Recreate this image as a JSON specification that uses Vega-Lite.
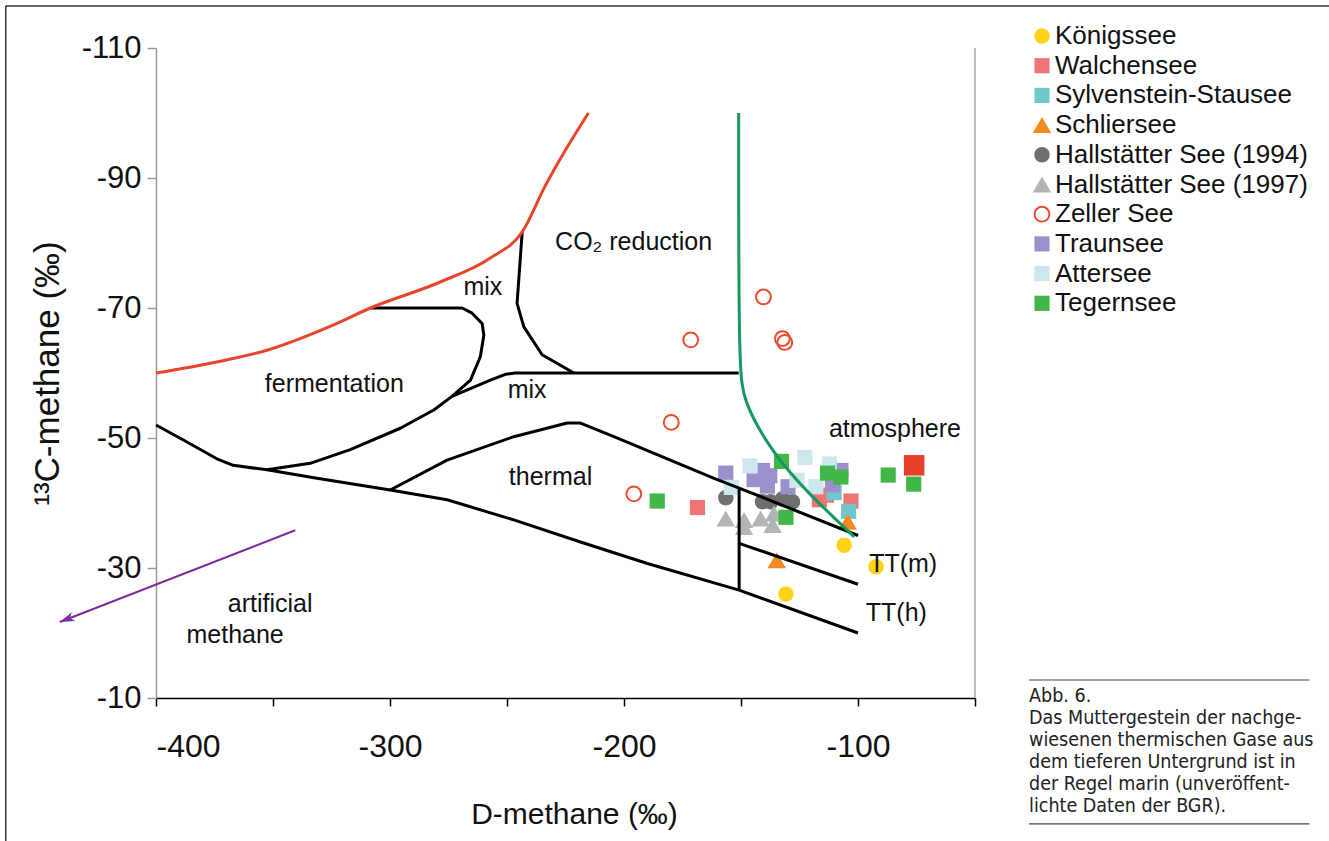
{
  "$schema": "https://vega.github.io/schema/vega-lite/v6.json",
  "autosize": {"type": "none"},
  "width": 819,
  "height": 650,
  "padding": {"left": 156, "top": 48, "right": 354, "bottom": 143},
  "background": "white",
  "config": {
    "view": {"stroke": null},
    "font": "Liberation Sans, Arial, sans-serif",
    "legend": {
      "orient": "none", "legendX": 873, "legendY": -25,
      "labelFontSize": 26, "labelFont": "Liberation Sans, Arial, sans-serif",
      "labelColor": "#111", "symbolSize": 200, "rowPadding": 3.7, "labelOffset": 0,
      "symbolStrokeWidth": 2, "padding": 0, "labelLimit": 400
    }
  },
  "datasets": {
    "pts": [
      {"lake": "Königssee", "d": -105.9, "c": -33.5},
      {"lake": "Königssee", "d": -92.3, "c": -30.2},
      {"lake": "Königssee", "d": -130.8, "c": -26.0},
      {"lake": "Walchensee", "d": -168.6, "c": -39.3},
      {"lake": "Walchensee", "d": -116.5, "c": -40.5},
      {"lake": "Walchensee", "d": -113.5, "c": -41.2},
      {"lake": "Walchensee", "d": -103.0, "c": -40.3},
      {"lake": "Sylvenstein-Stausee", "d": -110.2, "c": -41.6},
      {"lake": "Sylvenstein-Stausee", "d": -104.0, "c": -38.7},
      {"lake": "Schliersee", "d": -104.4, "c": -37.1},
      {"lake": "Schliersee", "d": -134.7, "c": -31.2},
      {"lake": "Hallstätter See (1994)", "d": -156.5, "c": -40.8},
      {"lake": "Hallstätter See (1994)", "d": -140.8, "c": -40.2},
      {"lake": "Hallstätter See (1994)", "d": -137.3, "c": -40.2},
      {"lake": "Hallstätter See (1994)", "d": -132.3, "c": -40.6},
      {"lake": "Hallstätter See (1994)", "d": -128.0, "c": -40.2},
      {"lake": "Hallstätter See (1997)", "d": -156.5, "c": -37.6},
      {"lake": "Hallstätter See (1997)", "d": -148.7, "c": -37.4},
      {"lake": "Hallstätter See (1997)", "d": -148.7, "c": -36.3},
      {"lake": "Hallstätter See (1997)", "d": -141.6, "c": -37.6},
      {"lake": "Hallstätter See (1997)", "d": -136.5, "c": -36.6},
      {"lake": "Hallstätter See (1997)", "d": -135.9, "c": -38.4},
      {"lake": "Zeller See", "d": -140.4, "c": -71.7},
      {"lake": "Zeller See", "d": -171.5, "c": -65.1},
      {"lake": "Zeller See", "d": -132.3, "c": -65.3},
      {"lake": "Zeller See", "d": -131.3, "c": -64.7},
      {"lake": "Zeller See", "d": -179.8, "c": -52.4},
      {"lake": "Zeller See", "d": -195.8, "c": -41.4},
      {"lake": "Traunsee", "d": -156.5, "c": -44.6},
      {"lake": "Traunsee", "d": -140.8, "c": -45.0},
      {"lake": "Traunsee", "d": -144.4, "c": -43.6},
      {"lake": "Traunsee", "d": -138.7, "c": -42.6},
      {"lake": "Traunsee", "d": -137.7, "c": -44.2},
      {"lake": "Traunsee", "d": -129.9, "c": -42.5},
      {"lake": "Traunsee", "d": -107.3, "c": -45.0},
      {"lake": "Traunsee", "d": -110.9, "c": -42.8},
      {"lake": "Attersee", "d": -154.1, "c": -42.4},
      {"lake": "Attersee", "d": -146.1, "c": -45.7},
      {"lake": "Attersee", "d": -122.7, "c": -47.0},
      {"lake": "Attersee", "d": -126.1, "c": -43.5},
      {"lake": "Attersee", "d": -118.0, "c": -42.5},
      {"lake": "Attersee", "d": -112.3, "c": -46.0},
      {"lake": "Tegernsee", "d": -185.8, "c": -40.3},
      {"lake": "Tegernsee", "d": -132.7, "c": -46.4},
      {"lake": "Tegernsee", "d": -130.8, "c": -37.8},
      {"lake": "Tegernsee", "d": -113.0, "c": -44.6},
      {"lake": "Tegernsee", "d": -107.3, "c": -44.0},
      {"lake": "Tegernsee", "d": -87.1, "c": -44.3},
      {"lake": "Tegernsee", "d": -76.2, "c": -42.9}
    ],
    "atmo": [{"d": -76.0, "c": -45.8}],
    "black": [
      {"id": "A", "o": 1, "d": -308.4, "c": -70}, {"id": "A", "o": 2, "d": -269.2, "c": -70},
      {"id": "A", "o": 3, "d": -264.9, "c": -69.2}, {"id": "A", "o": 4, "d": -260.6, "c": -67.6},
      {"id": "A", "o": 5, "d": -259.9, "c": -65.8}, {"id": "A", "o": 6, "d": -261.4, "c": -62.5},
      {"id": "A", "o": 7, "d": -265.6, "c": -58.9}, {"id": "A", "o": 8, "d": -273.5, "c": -56.4},
      {"id": "B", "o": 1, "d": -273.5, "c": -56.4}, {"id": "B", "o": 2, "d": -281.3, "c": -54.3},
      {"id": "B", "o": 3, "d": -295.6, "c": -51.5}, {"id": "B", "o": 4, "d": -317.0, "c": -48.2},
      {"id": "B", "o": 5, "d": -334.1, "c": -46.1}, {"id": "B", "o": 6, "d": -352.6, "c": -45.1},
      {"id": "C", "o": 1, "d": -273.5, "c": -56.4}, {"id": "C", "o": 2, "d": -257.1, "c": -58.9},
      {"id": "C", "o": 3, "d": -250.7, "c": -59.8}, {"id": "C", "o": 4, "d": -246.5, "c": -60},
      {"id": "C", "o": 5, "d": -151, "c": -60},
      {"id": "D", "o": 1, "d": -243.5, "c": -81.7}, {"id": "D", "o": 2, "d": -245.7, "c": -70.7},
      {"id": "D", "o": 3, "d": -242.8, "c": -67.1}, {"id": "D", "o": 4, "d": -235.0, "c": -62.8},
      {"id": "D", "o": 5, "d": -221.4, "c": -60},
      {"id": "E", "o": 1, "d": -400, "c": -52}, {"id": "E", "o": 2, "d": -388.3, "c": -49.7},
      {"id": "E", "o": 3, "d": -374.0, "c": -46.8}, {"id": "E", "o": 4, "d": -367.0, "c": -45.8},
      {"id": "E", "o": 5, "d": -352.6, "c": -45.1}, {"id": "E", "o": 6, "d": -331.2, "c": -43.8},
      {"id": "E", "o": 7, "d": -299.9, "c": -42.0}, {"id": "E", "o": 8, "d": -275.6, "c": -40.5},
      {"id": "E", "o": 9, "d": -247.1, "c": -37.4}, {"id": "E", "o": 10, "d": -218.6, "c": -34.0},
      {"id": "E", "o": 11, "d": -190.0, "c": -30.7}, {"id": "E", "o": 12, "d": -150.8, "c": -26.6},
      {"id": "E", "o": 13, "d": -100, "c": -20},
      {"id": "F", "o": 1, "d": -299.9, "c": -42.0}, {"id": "F", "o": 2, "d": -275.6, "c": -46.6},
      {"id": "F", "o": 3, "d": -247.1, "c": -50.2}, {"id": "F", "o": 4, "d": -224.3, "c": -52.3},
      {"id": "F", "o": 5, "d": -218.6, "c": -52.3}, {"id": "F", "o": 6, "d": -204.3, "c": -50.2},
      {"id": "F", "o": 7, "d": -161.5, "c": -43.8}, {"id": "F", "o": 8, "d": -150.8, "c": -42.3},
      {"id": "F", "o": 9, "d": -100, "c": -35},
      {"id": "G", "o": 1, "d": -150.8, "c": -42.3}, {"id": "G", "o": 2, "d": -150.8, "c": -26.6},
      {"id": "H", "o": 1, "d": -150.8, "c": -33.8}, {"id": "H", "o": 2, "d": -100, "c": -27.5}
    ],
    "red": [
      {"o": 1, "d": -400, "c": -60}, {"o": 2, "d": -374.0, "c": -61.7},
      {"o": 3, "d": -352.6, "c": -63.5}, {"o": 4, "d": -338.4, "c": -65.3},
      {"o": 5, "d": -324.1, "c": -67.4}, {"o": 6, "d": -308.4, "c": -70.0},
      {"o": 7, "d": -278.5, "c": -74.0}, {"o": 8, "d": -257.1, "c": -77.7},
      {"o": 9, "d": -243.5, "c": -81.7}, {"o": 10, "d": -233.5, "c": -88.9},
      {"o": 11, "d": -225.0, "c": -94.3}, {"o": 12, "d": -215.2, "c": -100}
    ],
    "green": [
      {"o": 1, "d": -151, "c": -100}, {"o": 2, "d": -151, "c": -60.2},
      {"o": 3, "d": -148.7, "c": -55.8}, {"o": 4, "d": -140.1, "c": -49.7},
      {"o": 5, "d": -125.8, "c": -43.0}, {"o": 6, "d": -101.6, "c": -34.8}
    ],
    "arrow": [
      {"o": 1, "d": -340.5, "c": -35.8}, {"o": 2, "d": -441.1, "c": -21.7}
    ],
    "labels": [
      {"t": "mix", "d": -260.3, "c": -72.0},
      {"t": "CO₂ reduction", "d": -195.9, "c": -78.9},
      {"t": "fermentation", "d": -323.8, "c": -57.1},
      {"t": "mix", "d": -241.4, "c": -56.1},
      {"t": "thermal", "d": -231.4, "c": -42.8},
      {"t": "atmosphere", "d": -84.2, "c": -50.2},
      {"t": "TT(m)", "d": -80.7, "c": -29.4},
      {"t": "TT(h)", "d": -83.6, "c": -21.9},
      {"t": "artificial", "d": -351.2, "c": -23.3},
      {"t": "methane", "d": -366.2, "c": -18.4}
    ],
    "caption": [
      {"t": "Abb. 6.", "d": -26.9, "c": -9.43},
      {"t": "Das Muttergestein der nachge-", "d": -26.9, "c": -6.05},
      {"t": "wiesenen thermischen Gase aus", "d": -26.9, "c": -2.66},
      {"t": "dem tieferen Untergrund ist in", "d": -26.9, "c": 0.72},
      {"t": "der Regel marin (unveröffent-", "d": -26.9, "c": 4.11},
      {"t": "lichte Daten der BGR).", "d": -26.9, "c": 7.49}
    ],
    "caprules": [
      {"d": -26.9, "d2": 92.9, "c": -12.77},
      {"d": -26.9, "d2": 92.9, "c": 9.38}
    ],
    "frame": [
      {"d": -464.2, "d2": -464.2, "c": -116.46, "c2": 30},
      {"d": -464.2, "d2": 130, "c": -116.46, "c2": -116.46}
    ]
  },
  "layer": [
    {
      "data": {"name": "frame"},
      "mark": {"type": "rule", "color": "#333", "strokeWidth": 1.5, "clip": false},
      "encoding": {
        "x": {"field": "d", "type": "quantitative"},
        "x2": {"field": "d2"},
        "y": {"field": "c", "type": "quantitative"},
        "y2": {"field": "c2"}
      }
    },
    {
      "data": {"values": [{"d": -50}]},
      "mark": {"type": "rule", "color": "#a8a8a8", "strokeWidth": 1.5},
      "encoding": {"x": {"field": "d", "type": "quantitative"}}
    },
    {
      "data": {"name": "pts"},
      "mark": {"type": "point", "opacity": 1, "strokeWidth": 2},
      "encoding": {
        "x": {
          "field": "d", "type": "quantitative",
          "scale": {"domain": [-400, -50], "nice": false, "zero": false},
          "axis": {
            "values": [-400, -350, -300, -250, -200, -150, -100, -50],
            "labelExpr": "datum.value % 100 === 0 ? '' + datum.value : ''",
            "grid": false, "domainColor": "#000", "domainWidth": 1.5,
            "tickColor": "#000", "tickWidth": 1.5, "tickSize": 8,
            "labelFontSize": 32, "labelColor": "#111", "labelPadding": 25,
            "labelFont": "Liberation Sans, Arial, sans-serif",
            "title": "D-methane  (‰)", "titleFontSize": 30, "titleFontWeight": "normal",
            "titleColor": "#111", "titlePadding": 37, "titleX": 418,
            "titleFont": "Liberation Sans, Arial, sans-serif"
          }
        },
        "y": {
          "field": "c", "type": "quantitative",
          "scale": {"domain": [-110, -10], "nice": false, "zero": false, "reverse": true},
          "axis": {
            "values": [-110, -90, -70, -50, -30, -10],
            "labelExpr": "'' + datum.value",
            "grid": false, "domainColor": "#9a9a9a", "domainWidth": 1.5,
            "tickColor": "#9a9a9a", "tickWidth": 1.5, "tickSize": 9,
            "labelFontSize": 31, "labelColor": "#111", "labelPadding": 6,
            "labelFont": "Liberation Sans, Arial, sans-serif",
            "title": "¹³C-methane (‰)", "titleFontSize": 35, "titleFontWeight": "normal",
            "titleColor": "#111", "titlePadding": 16, "titleFont": "Liberation Sans, Arial, sans-serif"
          }
        },
        "shape": {
          "field": "lake", "type": "nominal",
          "scale": {
            "domain": ["Königssee", "Walchensee", "Sylvenstein-Stausee", "Schliersee", "Hallstätter See (1994)", "Hallstätter See (1997)", "Zeller See", "Traunsee", "Attersee", "Tegernsee"],
            "range": ["circle", "square", "square", "triangle-up", "circle", "triangle-up", "circle", "square", "square", "square"]
          },
          "legend": {"title": null}
        },
        "size": {
          "field": "lake", "type": "nominal",
          "scale": {
            "type": "ordinal",
            "domain": ["Königssee", "Walchensee", "Sylvenstein-Stausee", "Schliersee", "Hallstätter See (1994)", "Hallstätter See (1997)", "Zeller See", "Traunsee", "Attersee", "Tegernsee"],
            "range": [240, 230, 230, 340, 240, 340, 220, 230, 230, 230]
          },
          "legend": {"title": null}
        },
        "fill": {
          "field": "lake", "type": "nominal",
          "scale": {
            "domain": ["Königssee", "Walchensee", "Sylvenstein-Stausee", "Schliersee", "Hallstätter See (1994)", "Hallstätter See (1997)", "Zeller See", "Traunsee", "Attersee", "Tegernsee"],
            "range": ["#ffd21a", "#ef7474", "#6fc8cb", "#f28a22", "#6d6f71", "#b2b5b7", "transparent", "#9c90cc", "#cce7ee", "#43b64a"]
          },
          "legend": {"title": null}
        },
        "stroke": {
          "field": "lake", "type": "nominal",
          "scale": {
            "domain": ["Königssee", "Walchensee", "Sylvenstein-Stausee", "Schliersee", "Hallstätter See (1994)", "Hallstätter See (1997)", "Zeller See", "Traunsee", "Attersee", "Tegernsee"],
            "range": ["transparent", "transparent", "transparent", "transparent", "transparent", "transparent", "#f04a2c", "transparent", "transparent", "transparent"]
          },
          "legend": {"title": null}
        }
      }
    },
    {
      "data": {"name": "atmo"},
      "mark": {"type": "square", "size": 420, "color": "#e8402a", "opacity": 1},
      "encoding": {"x": {"field": "d", "type": "quantitative"}, "y": {"field": "c", "type": "quantitative"}}
    },
    {
      "data": {"name": "black"},
      "mark": {"type": "line", "color": "#000", "strokeWidth": 3, "strokeJoin": "round"},
      "encoding": {
        "x": {"field": "d", "type": "quantitative"},
        "y": {"field": "c", "type": "quantitative"},
        "detail": {"field": "id"},
        "order": {"field": "o", "type": "quantitative"}
      }
    },
    {
      "data": {"name": "red"},
      "mark": {"type": "line", "color": "#e8452c", "strokeWidth": 3, "interpolate": "monotone"},
      "encoding": {
        "x": {"field": "d", "type": "quantitative"},
        "y": {"field": "c", "type": "quantitative"},
        "order": {"field": "o", "type": "quantitative"}
      }
    },
    {
      "data": {"name": "green"},
      "mark": {"type": "line", "color": "#17985f", "strokeWidth": 3, "interpolate": "basis"},
      "encoding": {
        "x": {"field": "d", "type": "quantitative"},
        "y": {"field": "c", "type": "quantitative"},
        "order": {"field": "o", "type": "quantitative"}
      }
    },
    {
      "data": {"name": "arrow"},
      "mark": {"type": "line", "color": "#7b2d9b", "strokeWidth": 2, "clip": false},
      "encoding": {
        "x": {"field": "d", "type": "quantitative"},
        "y": {"field": "c", "type": "quantitative"},
        "order": {"field": "o", "type": "quantitative"}
      }
    },
    {
      "data": {"name": "arrow"},
      "transform": [{"filter": "datum.o === 2"}],
      "mark": {"type": "point", "shape": "M0,0L0.55,1.7L0,1.25L-0.55,1.7Z", "size": 300, "angle": 248.6, "filled": true, "color": "#7b2d9b", "opacity": 1, "clip": false},
      "encoding": {
        "x": {"field": "d", "type": "quantitative"},
        "y": {"field": "c", "type": "quantitative"}
      }
    },
    {
      "data": {"name": "labels"},
      "mark": {"type": "text", "fontSize": 25, "align": "center", "baseline": "alphabetic", "color": "#111", "font": "Liberation Sans, Arial, sans-serif"},
      "encoding": {
        "x": {"field": "d", "type": "quantitative"},
        "y": {"field": "c", "type": "quantitative"},
        "text": {"field": "t"}
      }
    },
    {
      "data": {"name": "caption"},
      "mark": {"type": "text", "fontSize": 19.5, "align": "left", "baseline": "alphabetic", "color": "#222", "font": "Liberation Sans Narrow, DejaVu Sans Condensed, sans-serif", "clip": false},
      "encoding": {
        "x": {"field": "d", "type": "quantitative"},
        "y": {"field": "c", "type": "quantitative"},
        "text": {"field": "t"}
      }
    },
    {
      "data": {"name": "caprules"},
      "mark": {"type": "rule", "color": "#444", "strokeWidth": 1.2, "clip": false},
      "encoding": {
        "x": {"field": "d", "type": "quantitative"},
        "x2": {"field": "d2"},
        "y": {"field": "c", "type": "quantitative"}
      }
    }
  ]
}
